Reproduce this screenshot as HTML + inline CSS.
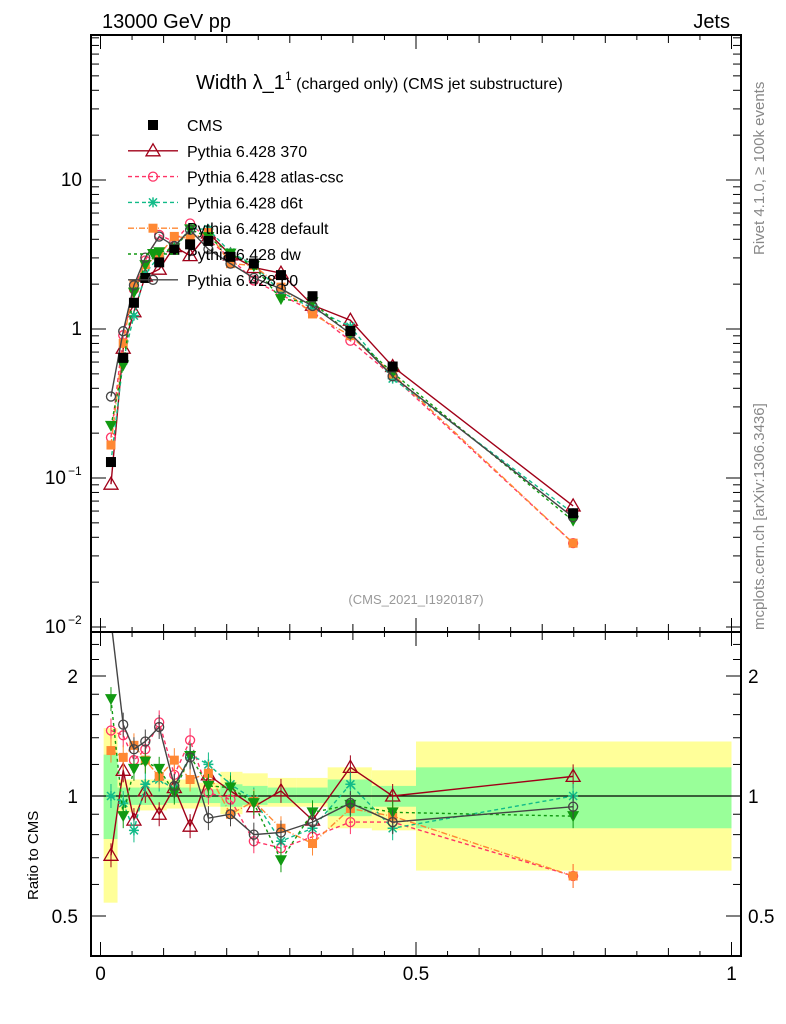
<!DOCTYPE html>
<html><head><meta charset="utf-8">
<style>
html,body{margin:0;padding:0;background:#fff;}
svg{display:block;font-family:"Liberation Sans",sans-serif;}
</style></head>
<body>
<svg id="chart" width="786" height="1024" viewBox="0 0 786 1024" xmlns="http://www.w3.org/2000/svg">
<text x="102" y="28" font-size="20">13000 GeV pp</text>
<text x="730" y="28" font-size="20" text-anchor="end">Jets</text>
<text x="196" y="89" font-size="20">Width λ_1<tspan font-size="12" dy="-9">1</tspan><tspan font-size="16" dy="9"> (charged only) (CMS jet substructure)</tspan></text>
<text x="416" y="604" font-size="13" fill="#999" text-anchor="middle">(CMS_2021_I1920187)</text>
<text transform="translate(764,255) rotate(-90)" font-size="15" fill="#888">Rivet 4.1.0, ≥ 100k events</text>
<text transform="translate(764,630) rotate(-90)" font-size="15" fill="#888">mcplots.cern.ch [arXiv:1306.3436]</text>
<text transform="translate(38,900) rotate(-90)" font-size="15">Ratio to CMS</text>
<g id="g"></g>
</svg>
<script>
const binCenters=[0.0166,0.036,0.053,0.071,0.093,0.117,0.142,0.171,0.206,0.243,0.286,0.336,0.396,0.463,0.749];
const binEdges=[0.005,0.027,0.045,0.062,0.08,0.105,0.13,0.155,0.19,0.225,0.265,0.31,0.36,0.43,0.5,1.0];
const cmsValues=[0.128,0.64,1.5,2.2,2.8,3.4,3.7,3.9,3.05,2.75,2.3,1.66,0.97,0.56,0.058];
const yellowUp=[1.48,1.1,1.1,1.1,1.1,1.1,1.1,1.08,1.15,1.14,1.11,1.11,1.18,1.16,1.37];
const yellowDn=[0.54,0.9,0.91,0.92,0.92,0.93,0.93,0.94,0.9,0.94,0.94,0.94,0.83,0.82,0.65];
const greenUp=[1.27,1.05,1.05,1.05,1.05,1.05,1.05,1.04,1.07,1.06,1.05,1.05,1.1,1.06,1.18];
const greenDn=[0.78,0.95,0.95,0.95,0.95,0.96,0.96,0.96,0.94,0.95,0.96,0.96,0.89,0.94,0.83];
const r370=[0.71,1.16,0.87,1.03,0.9,1.05,0.84,1.13,1.03,0.94,1.03,0.87,1.18,1.0,1.12];
const rAtlas=[1.46,1.42,1.23,1.31,1.53,1.13,1.38,1.02,0.98,0.77,0.74,0.79,0.86,0.86,0.63];
const rD6t=[1.0,0.96,0.82,1.07,1.1,1.04,1.27,1.2,1.07,0.98,0.77,0.83,1.07,0.83,1.0];
const rDefault=[1.3,1.25,1.34,1.23,1.12,1.23,1.1,1.14,0.9,0.97,0.83,0.76,0.93,0.89,0.63];
const rDw=[1.75,0.89,1.17,1.22,1.17,1.02,1.26,1.06,1.05,0.96,0.69,0.91,0.95,0.91,0.89];
const rP0=[2.75,1.51,1.31,1.37,1.49,1.06,1.25,0.88,0.9,0.8,0.81,0.86,0.96,0.86,0.94];
const legendLabels=["CMS","Pythia 6.428 370","Pythia 6.428 atlas-csc","Pythia 6.428 d6t","Pythia 6.428 default","Pythia 6.428 dw","Pythia 6.428 p0"];

const NS="http://www.w3.org/2000/svg";
const G=document.getElementById('g');
const L=91,R=741,T=35,MB=632,B=956;
const X=v=>100.5+v*631;
const Y=v=>180-(Math.log10(v)-1)*149;
const RY=v=>796-Math.log2(v)*120;
function el(t,a,p){const e=document.createElementNS(NS,t);for(const k in a)e.setAttribute(k,a[k]);(p||G).appendChild(e);return e;}

// bands
const bands=el('g',{});


binCenters.forEach((c,i)=>{
 const a=Math.max(X(binEdges[i]),L+1),b=X(binEdges[i+1]);
 const y1=el('rect',{x:a,y:RY(yellowUp[i]),width:b-a,height:RY(yellowDn[i])-RY(yellowUp[i]),fill:'#ffff99'},bands);
 
 
 const g1=el('rect',{x:a,y:RY(greenUp[i]),width:b-a,height:RY(greenDn[i])-RY(greenUp[i]),fill:'#99ff99'},bands);
 
 
});
el('line',{x1:L,x2:R,y1:796,y2:796,stroke:'#000','stroke-width':1.2});

const series=[
 {name:'pythia-370',r:r370,col:'#a00018',dash:'',mk:'tri'},
 {name:'pythia-atlas-csc',r:rAtlas,col:'#ff3366',dash:'4,3',mk:'circ'},
 {name:'pythia-d6t',r:rD6t,col:'#11bb88',dash:'4,3',mk:'star'},
 {name:'pythia-default',r:rDefault,col:'#ff8833',dash:'6,2,1,2',mk:'sq'},
 {name:'pythia-dw',r:rDw,col:'#119911',dash:'3,3',mk:'dtri'},
 {name:'pythia-p0',r:rP0,col:'#444444',dash:'',mk:'circ'}
];
function marker(mk,x,y,col,p){
 let e;
 if(mk==='tri')e=el('path',{d:`M${x},${y-7}L${x+7},${y+5}L${x-7},${y+5}Z`,fill:'none',stroke:col,'stroke-width':1.3},p);
 else if(mk==='dtri')e=el('path',{d:`M${x-6},${y-5}L${x+6},${y-5}L${x},${y+6}Z`,fill:col},p);
 else if(mk==='circ')e=el('circle',{cx:x,cy:y,r:4.5,fill:'none',stroke:col,'stroke-width':1.3},p);
 else if(mk==='sq')e=el('rect',{x:x-4.5,y:y-4.5,width:9,height:9,fill:col},p);
 else if(mk==='bsq')e=el('rect',{x:x-5,y:y-5,width:10,height:10,fill:col},p);
 else e=el('path',{d:`M${x-5},${y}H${x+5}M${x},${y-5}V${y+5}M${x-4},${y-4}L${x+4},${y+4}M${x-4},${y+4}L${x+4},${y-4}`,stroke:col,'stroke-width':1.5},p);
 return e;
}
// main panel series
const clipM=el('clipPath',{id:'cm'});el('rect',{x:L,y:T,width:R-L,height:MB-T},clipM);
const clipR=el('clipPath',{id:'cr'});el('rect',{x:L,y:MB,width:R-L,height:B-MB},clipR);
series.forEach(s=>{
 const gm=el('g',{'clip-path':'url(#cm)'});
 
 
 const pts=binCenters.map((c,i)=>[X(c),Y(cmsValues[i]*s.r[i])]);
 el('polyline',{points:pts.map(p=>p.join(',')).join(' '),fill:'none',stroke:s.col,'stroke-width':1.4,'stroke-dasharray':s.dash},gm);
 pts.forEach(p=>marker(s.mk,p[0],p[1],s.col,gm));
 const gr=el('g',{'clip-path':'url(#cr)'});
 
 
 const rp=binCenters.map((c,i)=>[X(c),RY(s.r[i])]);
 el('polyline',{points:rp.map(p=>p.join(',')).join(' '),fill:'none',stroke:s.col,'stroke-width':1.4,'stroke-dasharray':s.dash},gr);
 rp.forEach(p=>{el('line',{x1:p[0],x2:p[0],y1:p[1]-12,y2:p[1]+12,stroke:s.col,'stroke-width':1},gr);marker(s.mk,p[0],p[1],s.col,gr);});
});
const gc=el('g',{});


binCenters.forEach((c,i)=>marker('bsq',X(c),Y(cmsValues[i]),'#000',gc));

// legend
const lg=el('g',{});


legendLabels.forEach((t,i)=>{
 const y=125+i*25.8;
 const ent=el('g',{},lg);
 
 
 if(i===0)marker('bsq',153,y,'#000',ent);
 else{const s=series[i-1];el('line',{x1:128,x2:178,y1:y,y2:y,stroke:s.col,'stroke-width':1.4,'stroke-dasharray':s.dash},ent);marker(s.mk,153,y,s.col,ent);}
 const tx=el('text',{x:187,y:y+6,'font-size':16},ent);tx.textContent=t;
});

// frames
el('rect',{x:L,y:T,width:R-L,height:MB-T,fill:'none',stroke:'#000','stroke-width':2});
el('rect',{x:L,y:MB,width:R-L,height:B-MB,fill:'none',stroke:'#000','stroke-width':2});
// x ticks
for(let k=0;k<=20;k++){const v=k*0.05,x=X(v);const len=k%10===0?14:(k%2===0?8:5);
 [[T,1],[MB,-1],[MB,1],[B,-1]].forEach(([y0,d])=>el('line',{x1:x,x2:x,y1:y0,y2:y0+d*len,stroke:'#000','stroke-width':1}));}
['0','0.5','1'].forEach((t,i)=>{const e=el('text',{x:X(i*0.5),y:980,'font-size':19,'text-anchor':'middle'});e.textContent=t;});
// log y ticks main
for(let d=-2;d<=1;d++)for(let m=1;m<=9;m++){const y=Y(m*Math.pow(10,d));if(y<T||y>MB)continue;const len=m===1?15:8;
 el('line',{x1:L,x2:L+len,y1:y,y2:y,stroke:'#000'});el('line',{x1:R,x2:R-len,y1:y,y2:y,stroke:'#000'});}
const yl=[['10',186,''],['1',335,''],['10',484,'−1'],['10',633,'−2']];
yl.forEach(a=>{const e=el('text',{x:a[2]?66:82,y:a[1],'font-size':19,'text-anchor':'end'});e.textContent=a[0];
 if(a[2]){const s=el('text',{x:68,y:a[1]-9,'font-size':12});s.textContent=a[2];}});
// ratio ticks
[0.5,0.6,0.7,0.8,0.9,1,1.2,1.4,1.6,1.8,2,2.2,2.4].forEach(v=>{const y=RY(v);const len=(v===0.5||v===1||v===2)?15:8;
 el('line',{x1:L,x2:L+len,y1:y,y2:y,stroke:'#000'});el('line',{x1:R,x2:R-len,y1:y,y2:y,stroke:'#000'});});
[['2',2],['1',1],['0.5',0.5]].forEach(a=>{
 const e=el('text',{x:78,y:RY(a[1])+7,'font-size':19,'text-anchor':'end'});e.textContent=a[0];
 const f=el('text',{x:748,y:RY(a[1])+7,'font-size':19});f.textContent=a[0];});
</script>
</body></html>
